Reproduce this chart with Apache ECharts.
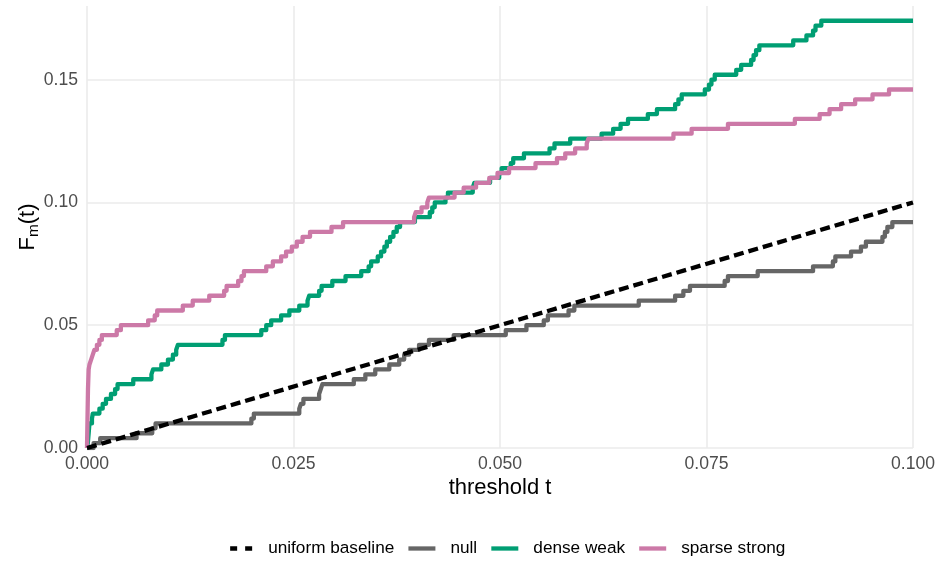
<!DOCTYPE html>
<html>
<head>
<meta charset="utf-8">
<script src="https://cdn.jsdelivr.net/npm/echarts@6/dist/echarts.min.js"></script>
<style>
  html, body { margin: 0; padding: 0; background: #ffffff; }
  #chart { width: 938px; height: 563px; }
</style>
</head>
<body>
<div id="chart"></div>
<script>
// Empirical CDFs F_m(t) of p-values on [0, 0.1]; each pair is [jump location t, value after jump].
const seriesNames = ['uniform baseline', 'null', 'dense weak', 'sparse strong'];
const seriesColors = ['#000000', '#666666', '#009E73', '#CC79A7'];

const xTicks = [0, 0.025, 0.05, 0.075, 0.1];
const yTicks = [0, 0.05, 0.10, 0.15];

const baseline = [[0, 0], [0.1, 0.1]];

const nullSteps = [
  [0, 0], [0.0008, 0.002], [0.0016, 0.004], [0.0060, 0.006], [0.0079, 0.008], [0.0083, 0.010],
  [0.0199, 0.012], [0.0202, 0.014], [0.0257, 0.016], [0.0259, 0.018], [0.0262, 0.020],
  [0.0281, 0.022], [0.0283, 0.024], [0.0285, 0.026], [0.0323, 0.028], [0.0337, 0.030],
  [0.0349, 0.032], [0.0366, 0.034], [0.0378, 0.036], [0.0384, 0.038], [0.0390, 0.040],
  [0.0402, 0.042], [0.0414, 0.044], [0.0444, 0.046], [0.0507, 0.048], [0.0532, 0.050],
  [0.0553, 0.052], [0.0558, 0.054], [0.0583, 0.056], [0.0590, 0.058], [0.0668, 0.060],
  [0.0712, 0.062], [0.0722, 0.064], [0.0730, 0.066], [0.0772, 0.068], [0.0776, 0.070],
  [0.0812, 0.072], [0.0879, 0.074], [0.0903, 0.076], [0.0906, 0.078], [0.0925, 0.080],
  [0.0937, 0.082], [0.0943, 0.084], [0.0963, 0.086], [0.0966, 0.088], [0.0969, 0.090],
  [0.0975, 0.092], [0.1, 0.092]
];

const denseSteps = [
  [0, 0], [0.0001, 0.002], [0.00015, 0.004], [0.0002, 0.006], [0.00025, 0.008], [0.0003, 0.010],
  [0.0006, 0.012], [0.0007, 0.014], [0.0015, 0.016], [0.0019, 0.018], [0.0023, 0.020],
  [0.0029, 0.022], [0.0034, 0.024], [0.0037, 0.026], [0.0056, 0.028], [0.0078, 0.030],
  [0.0080, 0.032], [0.0090, 0.034], [0.0098, 0.036], [0.0104, 0.038], [0.0108, 0.040],
  [0.0110, 0.042], [0.0164, 0.044], [0.0167, 0.046], [0.0211, 0.048], [0.0217, 0.050],
  [0.0223, 0.052], [0.0235, 0.054], [0.0245, 0.056], [0.0257, 0.058], [0.0267, 0.060],
  [0.0269, 0.062], [0.0281, 0.064], [0.0284, 0.066], [0.0297, 0.068], [0.0313, 0.070],
  [0.0332, 0.072], [0.0341, 0.074], [0.0344, 0.076], [0.0352, 0.078], [0.0356, 0.080],
  [0.0360, 0.082], [0.0363, 0.084], [0.0367, 0.086], [0.0371, 0.088], [0.0375, 0.090],
  [0.0379, 0.092], [0.0397, 0.094], [0.0415, 0.096], [0.0418, 0.098], [0.0421, 0.100],
  [0.0434, 0.102], [0.0437, 0.104], [0.0467, 0.106], [0.0469, 0.108], [0.0488, 0.110],
  [0.0499, 0.112], [0.0502, 0.114], [0.0513, 0.116], [0.0516, 0.118], [0.0529, 0.120],
  [0.0560, 0.122], [0.0566, 0.124], [0.0585, 0.126], [0.0623, 0.128], [0.0637, 0.130],
  [0.0646, 0.132], [0.0655, 0.134], [0.0679, 0.136], [0.0690, 0.138], [0.0712, 0.140],
  [0.0716, 0.142], [0.0720, 0.144], [0.0748, 0.146], [0.0753, 0.148], [0.0756, 0.150],
  [0.0760, 0.152], [0.0786, 0.154], [0.0792, 0.156], [0.0804, 0.158], [0.0807, 0.160],
  [0.0810, 0.162], [0.0814, 0.164], [0.0855, 0.166], [0.0871, 0.168], [0.0879, 0.170],
  [0.0882, 0.172], [0.0889, 0.174], [0.1, 0.174]
];

const sparseSteps = [
  [0, 0], [0.00001, 0.002], [0.00002, 0.004], [0.00003, 0.006], [0.00004, 0.008],
  [0.00005, 0.010], [0.00006, 0.012], [0.00007, 0.014], [0.00008, 0.016], [0.00009, 0.018],
  [0.00010, 0.020], [0.00011, 0.022], [0.00012, 0.024], [0.00014, 0.026], [0.00016, 0.028],
  [0.00018, 0.030], [0.00020, 0.032], [0.0003, 0.034], [0.0005, 0.036], [0.0007, 0.038],
  [0.0009, 0.040], [0.0012, 0.042], [0.0015, 0.044], [0.0018, 0.046], [0.0036, 0.048],
  [0.0041, 0.050], [0.0074, 0.052], [0.0082, 0.054], [0.0085, 0.056], [0.0116, 0.058],
  [0.0128, 0.060], [0.0148, 0.062], [0.0166, 0.064], [0.0169, 0.066], [0.0183, 0.068],
  [0.0187, 0.070], [0.0190, 0.072], [0.0217, 0.074], [0.0225, 0.076], [0.0235, 0.078],
  [0.0241, 0.080], [0.0248, 0.082], [0.0254, 0.084], [0.0261, 0.086], [0.0270, 0.088],
  [0.0296, 0.090], [0.0310, 0.092], [0.0396, 0.094], [0.0398, 0.096], [0.0405, 0.098],
  [0.0412, 0.100], [0.0414, 0.102], [0.0445, 0.104], [0.0456, 0.106], [0.0471, 0.108],
  [0.0487, 0.110], [0.0497, 0.112], [0.0511, 0.114], [0.0543, 0.116], [0.0569, 0.118],
  [0.0579, 0.120], [0.0591, 0.122], [0.0605, 0.124], [0.0607, 0.126], [0.0710, 0.128],
  [0.0732, 0.130], [0.0776, 0.132], [0.0857, 0.134], [0.0887, 0.136], [0.0899, 0.138],
  [0.0913, 0.140], [0.0930, 0.142], [0.0951, 0.144], [0.0971, 0.146], [0.1, 0.146]
];

const FONT = '"Liberation Sans", Arial, Helvetica, sans-serif';
const LINE_W = 4.3;

const chart = echarts.init(document.getElementById('chart'), null, { renderer: 'canvas' });

const stepSeries = (name, data, color) => ({
  name: name,
  type: 'line',
  step: 'end',
  data: data,
  showSymbol: false,
  symbol: 'none',
  animation: false,
  lineStyle: { color: color, width: LINE_W, cap: 'butt', join: 'round' },
  itemStyle: { color: color }
});

chart.setOption({
  backgroundColor: '#ffffff',
  animation: false,
  textStyle: { fontFamily: FONT },
  grid: { left: 87, right: 23, top: 6, bottom: 115, containLabel: false },
  xAxis: {
    type: 'value',
    min: xTicks[0],
    max: xTicks[xTicks.length - 1],
    interval: 0.025,
    name: 'threshold t',
    nameLocation: 'middle',
    nameGap: 29,
    nameMoveOverlap: false,
    nameTextStyle: { fontSize: 22, color: '#000000', fontFamily: FONT },
    axisLine: { show: false },
    axisTick: { show: false },
    axisLabel: {
      color: '#4d4d4d', fontSize: 17.6, fontFamily: FONT, margin: 7,
      showMinLabel: true, showMaxLabel: true,
      formatter: v => v.toFixed(3)
    },
    splitLine: { show: true, lineStyle: { color: '#ebebeb', width: 1.6 } }
  },
  yAxis: {
    type: 'value',
    min: 0,
    max: 0.18,
    interval: 0.05,
    name: '{a|F}{s|m}{a|(t)}',
    nameLocation: 'middle',
    nameGap: 46,
    nameMoveOverlap: false,
    nameRotate: 90,
    nameTextStyle: {
      fontSize: 22, color: '#000000', fontFamily: FONT,
      rich: {
        a: { fontSize: 22, color: '#000000', fontFamily: FONT },
        s: { fontSize: 15.4, color: '#000000', fontFamily: FONT, padding: [12, 0, 0, 0] }
      }
    },
    axisLine: { show: false },
    axisTick: { show: false },
    axisLabel: {
      color: '#4d4d4d', fontSize: 17.6, fontFamily: FONT, margin: 9,
      showMaxLabel: false,
      formatter: v => (yTicks.some(t => Math.abs(t - v) < 1e-9) ? v.toFixed(2) : '')
    },
    splitLine: { show: true, showMaxLine: false, lineStyle: { color: '#ebebeb', width: 1.6 } }
  },
  legend: {
    data: [
      { name: seriesNames[0], lineStyle: { type: [7, 8], dashOffset: 11, width: LINE_W } },
      { name: seriesNames[1] },
      { name: seriesNames[2] },
      { name: seriesNames[3] }
    ],
    left: 224,
    top: 540,
    padding: 0,
    orient: 'horizontal',
    itemWidth: 27,
    itemHeight: 14,
    itemGap: 12,
    itemStyle: { opacity: 0 },
    lineStyle: { width: LINE_W },
    textStyle: { fontSize: 17.2, color: '#000000', fontFamily: FONT, padding: [0, 0, 0, 10] }
  },
  series: [
    stepSeries(seriesNames[1], nullSteps, seriesColors[1]),
    stepSeries(seriesNames[2], denseSteps, seriesColors[2]),
    stepSeries(seriesNames[3], sparseSteps, seriesColors[3]),
    {
      name: seriesNames[0],
      type: 'line',
      data: baseline,
      showSymbol: false,
      symbol: 'none',
      animation: false,
      lineStyle: { color: seriesColors[0], width: LINE_W, type: [10, 5], cap: 'butt' },
      itemStyle: { color: seriesColors[0] }
    }
  ]
});
</script>
</body>
</html>
